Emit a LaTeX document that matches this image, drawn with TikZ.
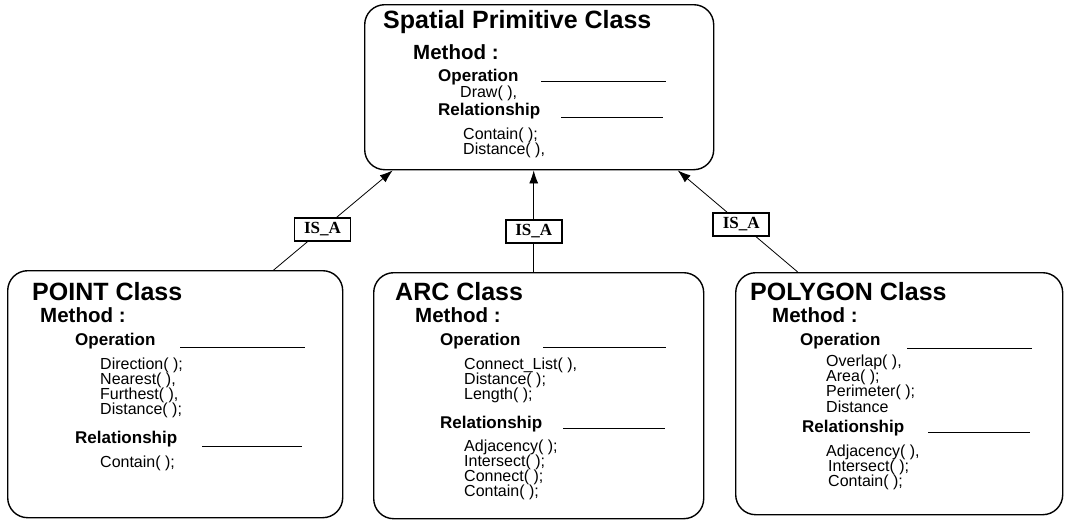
\documentclass[tikz,border=0pt]{standalone}
\usepackage{fontspec}
\setmainfont{Liberation Sans}
\newfontfamily\isafont{Liberation Serif}
\usetikzlibrary{arrows.meta}

\tikzset{
  classbox/.style={draw, line width=1.4pt, rounded corners=20pt, inner sep=0pt},
  title/.style={anchor=west, inner sep=0pt, font=\fontsize{25}{27}\selectfont\bfseries},
  methodlbl/.style={anchor=west, inner sep=0pt, font=\fontsize{20.5}{22}\selectfont\bfseries},
  heading/.style={anchor=west, inner sep=0pt, font=\fontsize{17}{18}\selectfont\bfseries},
  item/.style={anchor=west, inner sep=0pt, font=\fontsize{16}{16}\selectfont},
  rule/.style={line width=0.9pt},
  isa/.style={draw, line width=1.8pt, fill=white, inner sep=0pt, minimum width=56pt,
    minimum height=23pt, font=\isafont\fontsize{17}{18}\selectfont\bfseries},
  inherit/.style={line width=0.8pt, -{Latex[length=13pt,width=9pt]}}
}

\begin{document}
\begin{tikzpicture}[x=1pt,y=-1pt]
\useasboundingbox (0,0) rectangle (1065,522);

% ---------- class boxes ----------
\node[classbox, anchor=north west, minimum width=349pt, minimum height=165pt] (spc) at (364,4) {};
\node[classbox, anchor=north west, minimum width=335pt, minimum height=247pt] (pnt) at (7,270) {};
\node[classbox, anchor=north west, minimum width=330pt, minimum height=246pt] (arc) at (373,272) {};
\node[classbox, anchor=north west, minimum width=327pt, minimum height=242pt] (pol) at (735,272) {};

% ---------- Spatial Primitive Class ----------
\node[title] (spcT) at (383,22) {Spatial Primitive Class};
\node[methodlbl] (spcM) at (413,52) {Method :};
\node[heading] (spcO) at (438,77) {Operation};
\draw[rule] (541,81) -- (666,81);
\node[item] (spcO1) at (460,93) {Draw( ),};
\node[heading] (spcR) at (438,111) {Relationship};
\draw[rule] (561,117) -- (663,117);
\node[item] (spcR1) at (463,135) {Contain( );};
\node[item] (spcR2) at (463,150) {Distance( ),};

% ---------- POINT Class ----------
\node[title] (pntT) at (32,292) {POINT Class};
\node[methodlbl] (pntM) at (40,315) {Method :};
\node[heading] (pntO) at (75,341) {Operation};
\draw[rule] (180,347) -- (305,347);
\node[item] (pntO1) at (100,365) {Direction( );};
\node[item] (pntO2) at (100,380) {Nearest( ),};
\node[item] (pntO3) at (100,395) {Furthest( ),};
\node[item] (pntO4) at (100,410) {Distance( );};
\node[heading] (pntR) at (75,439) {Relationship};
\draw[rule] (202,446) -- (302,446);
\node[item] (pntR1) at (100,463) {Contain( );};

% ---------- ARC Class ----------
\node[title] (arcT) at (395,292) {ARC Class};
\node[methodlbl] (arcM) at (415,315) {Method :};
\node[heading] (arcO) at (440,341) {Operation};
\draw[rule] (543,347) -- (666,347);
\node[item] (arcO1) at (464,365) {Connect\_List( ),};
\node[item] (arcO2) at (464,380) {Distance( );};
\node[item] (arcO3) at (464,395) {Length( );};
\node[heading] (arcR) at (440,424) {Relationship};
\draw[rule] (563,428) -- (665,428);
\node[item] (arcR1) at (464,447) {Adjacency( );};
\node[item] (arcR2) at (464,462) {Intersect( );};
\node[item] (arcR3) at (464,477) {Connect( );};
\node[item] (arcR4) at (464,492) {Contain( );};

% ---------- POLYGON Class ----------
\node[title] (polT) at (750,292) {POLYGON Class};
\node[methodlbl] (polM) at (772,315) {Method :};
\node[heading] (polO) at (800,341) {Operation};
\draw[rule] (907,348) -- (1032,348);
\node[item] (polO1) at (826,362) {Overlap( ),};
\node[item] (polO2) at (826,377) {Area( );};
\node[item] (polO3) at (826,392) {Perimeter( );};
\node[item] (polO4) at (826,407) {Distance};
\node[heading] (polR) at (802,428) {Relationship};
\draw[rule] (928,432) -- (1030,432);
\node[item] (polR1) at (826,452) {Adjacency( ),};
\node[item] (polR2) at (828,467) {Intersect( );};
\node[item] (polR3) at (828,482) {Contain( );};

% ---------- IS_A inheritance links ----------
\draw[inherit] ([xshift=98.5pt]pnt.north) -- ([xshift=-146.5pt]spc.south)
  node[isa, pos=0.41] (isa1) {IS\_A};
\draw[inherit] ([xshift=-5pt]arc.north) -- ([xshift=-5.5pt]spc.south)
  node[isa, pos=0.40] (isa2) {IS\_A};
\draw[inherit] ([xshift=-101.5pt]pol.north) -- ([xshift=138.5pt]spc.south)
  node[isa, pos=0.47] (isa3) {IS\_A};
\end{tikzpicture}
\end{document}
